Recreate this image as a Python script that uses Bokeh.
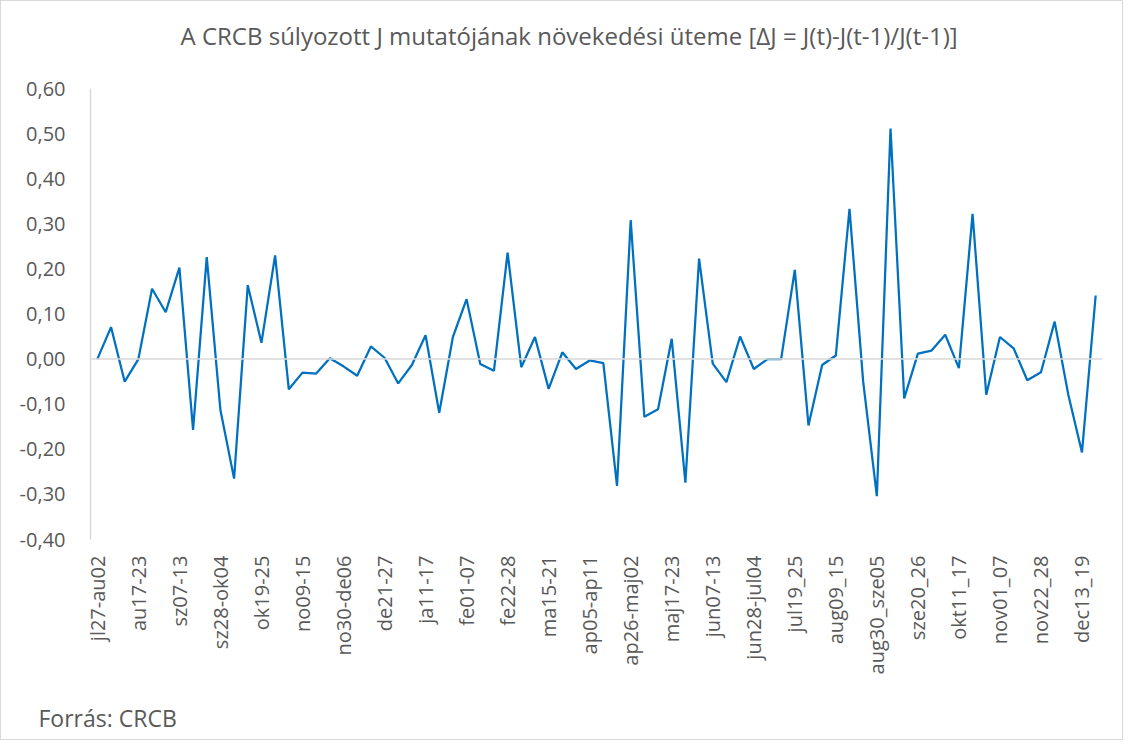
from bokeh.plotting import figure
from bokeh.models import Range1d, FixedTicker, Span, Title, CustomJSTickFormatter
from bokeh.embed import file_html
from bokeh.resources import INLINE
import math

title_text = "A CRCB súlyozott J mutatójának növekedési üteme [ΔJ = J(t)-J(t-1)/J(t-1)]"
source_text = "Forrás: CRCB"

tick_labels = ["jl27-au02", "au17-23", "sz07-13", "sz28-ok04", "ok19-25", "no09-15",
               "no30-de06", "de21-27", "ja11-17", "fe01-07", "fe22-28", "ma15-21",
               "ap05-ap11", "ap26-maj02", "maj17-23", "jun07-13", "jun28-jul04",
               "jul19_25", "aug09_15", "aug30_sze05", "sze20_26", "okt11_17",
               "nov01_07", "nov22_28", "dec13_19"]
label_step = 3

values = [0.000, 0.071, -0.050, 0.000, 0.156, 0.104, 0.203, -0.157, 0.226, -0.113,
          -0.265, 0.164, 0.036, 0.230, -0.067, -0.030, -0.032, 0.002, -0.016, -0.037,
          0.028, 0.003, -0.054, -0.013, 0.053, -0.119, 0.049, 0.133, -0.011, -0.026,
          0.236, -0.018, 0.049, -0.066, 0.015, -0.022, -0.003, -0.009, -0.281, 0.308,
          -0.128, -0.111, 0.045, -0.274, 0.223, -0.010, -0.051, 0.050, -0.022, 0.000,
          0.000, 0.198, -0.147, -0.013, 0.008, 0.333, -0.050, -0.304, 0.511, -0.087,
          0.012, 0.019, 0.054, -0.020, 0.322, -0.079, 0.049, 0.024, -0.047, -0.029,
          0.083, -0.079, -0.207, 0.141]

y_ticks = [-0.4, -0.3, -0.2, -0.1, 0.0, 0.1, 0.2, 0.3, 0.4, 0.5, 0.6]

x = list(range(len(values)))
GRAY = "#595959"
FONT = "Open Sans"

p = figure(width=1123, height=740, output_backend="svg", toolbar_location=None,
           x_range=Range1d(-0.5, len(values) - 0.5), y_range=Range1d(-0.4, 0.6),
           min_border_left=89, min_border_right=22, min_border_top=87, min_border_bottom=202)
p.styles = {"border": "1px solid #d9d9d9", "box-sizing": "border-box"}
p.outline_line_color = None
p.xgrid.visible = False
p.ygrid.visible = False

# spacer between frame and title
p.add_layout(Title(text=" ", text_font_size="24px", standoff=8), "above")

p.title.text = title_text
p.title.align = "left"
p.title.offset = 90
p.title.text_font = FONT
p.title.text_font_size = "24px"
p.title.text_font_style = "normal"
p.title.text_color = GRAY
p.title.standoff = 0

p.line(x, values, line_color="#0070C0", line_width=2.25)

p.add_layout(Span(location=0, dimension="width", line_color="#d9d9d9", line_width=1.5), "center")

# y axis
p.yaxis.ticker = FixedTicker(ticks=y_ticks)
p.yaxis.formatter = CustomJSTickFormatter(code="return tick.toFixed(2).replace('.', ',');")
p.yaxis.axis_line_color = "#d9d9d9"
p.yaxis.axis_line_width = 1.5
p.yaxis.major_tick_line_color = None
p.yaxis.minor_tick_line_color = None
p.yaxis.major_label_text_font = FONT
p.yaxis.major_label_text_font_size = "20px"
p.yaxis.major_label_text_color = GRAY
p.yaxis.major_label_standoff = 19

# x axis
tick_pos = [i * label_step for i in range(len(tick_labels))]
p.xaxis.ticker = FixedTicker(ticks=tick_pos)
p.xaxis.major_label_overrides = {t: lab for t, lab in zip(tick_pos, tick_labels)}
p.xaxis.major_label_orientation = math.pi / 2
p.xaxis.axis_line_color = None
p.xaxis.major_tick_line_color = None
p.xaxis.minor_tick_line_color = None
p.xaxis.major_label_text_font = FONT
p.xaxis.major_label_text_font_size = "20px"
p.xaxis.major_label_text_color = GRAY
p.xaxis.major_label_standoff = 10

# spacer between axis labels and source note
p.add_layout(Title(text=" ", text_font_size="12px", standoff=6), "below")
footer = Title(text=source_text, align="left", offset=-52, standoff=0, text_font=FONT,
               text_font_size="23px", text_font_style="normal", text_color=GRAY)
p.add_layout(footer, "below")

open("out.html", "w").write(file_html(p, INLINE))
